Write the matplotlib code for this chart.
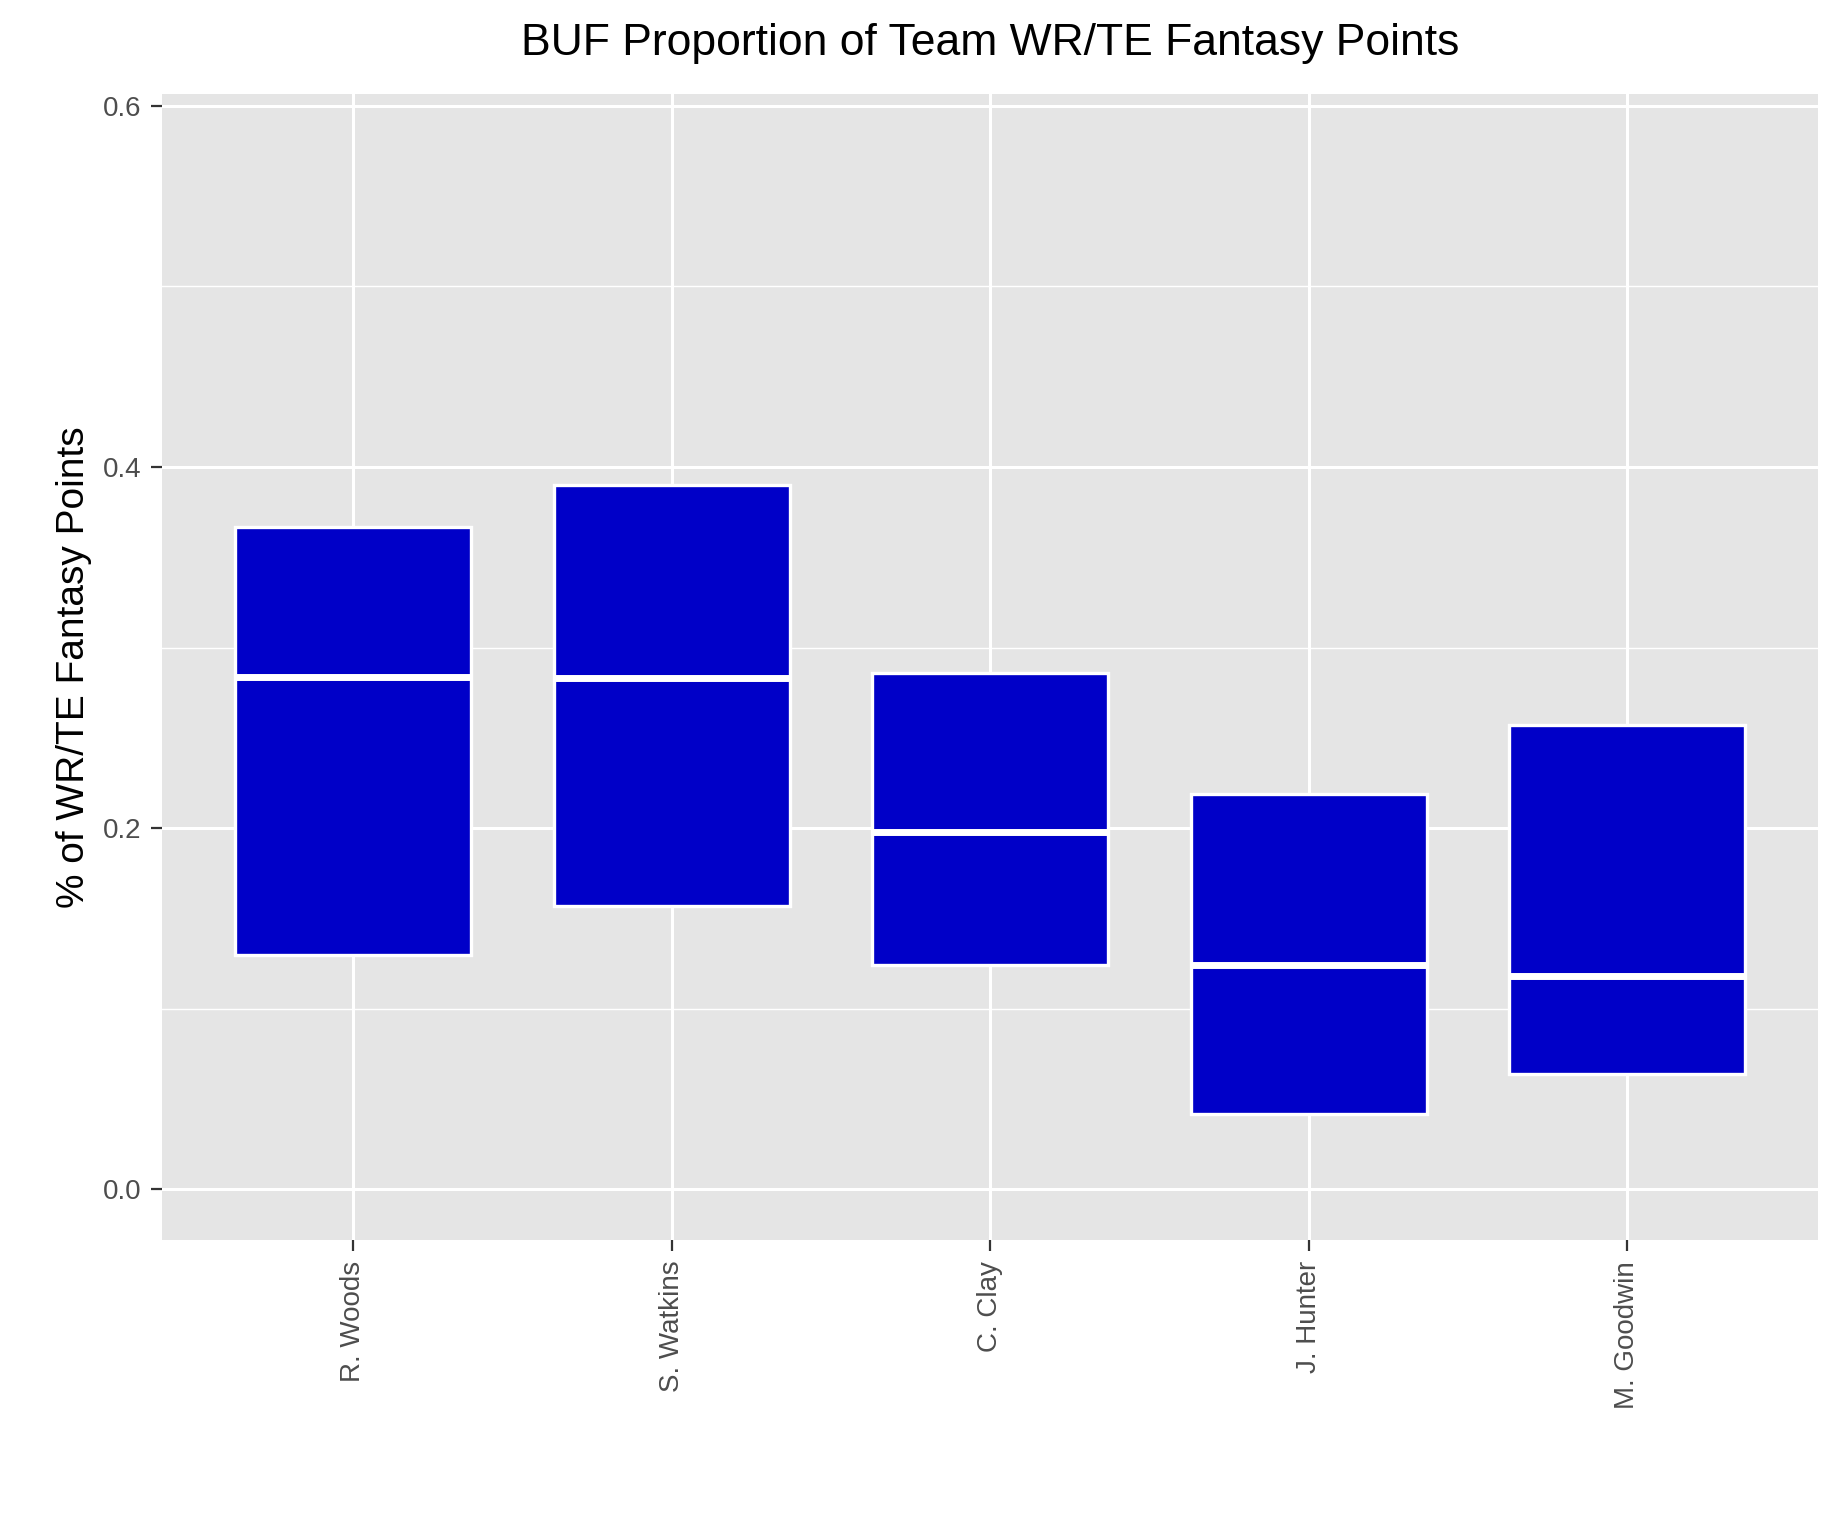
import matplotlib
matplotlib.use("Agg")
import matplotlib.pyplot as plt

players = ["R. Woods", "S. Watkins", "C. Clay", "J. Hunter", "M. Goodwin"]
lower = [0.130, 0.157, 0.124, 0.042, 0.064]
middle = [0.284, 0.283, 0.198, 0.124, 0.118]
upper = [0.367, 0.390, 0.286, 0.219, 0.257]

plt.rcParams['font.family'] = ['Liberation Sans', 'DejaVu Sans']
fig = plt.figure(figsize=(9.165, 7.645), dpi=200)
ax = fig.add_axes([0.0885, 0.189, 0.9035, 0.7495])
ax.set_facecolor('#e5e5e5')
for s in ax.spines.values():
    s.set_visible(False)

x = range(len(players))
width = 0.74
ax.bar(x, [u - l for u, l in zip(upper, lower)], bottom=lower, width=width,
       color='#0000c8', edgecolor='white', linewidth=1.2, zorder=3)
ax.hlines(middle, [i - width / 2 for i in x], [i + width / 2 for i in x],
          colors='white', linewidth=2.5, zorder=4)

ax.set_xlim(-0.6, 4.6)
ax.set_ylim(-0.028, 0.6065)
ax.set_yticks([0.0, 0.2, 0.4, 0.6])
ax.set_yticks([0.1, 0.3, 0.5], minor=True)
ax.set_xticks(list(x))
ax.set_xticklabels(players, rotation=90, fontsize=10, color='#4d4d4d')
ax.tick_params(axis='y', labelsize=10, labelcolor='#4d4d4d')
ax.tick_params(which='major', color='#333333', length=4)
ax.tick_params(which='minor', length=0)
ax.grid(True, which='major', color='white', linewidth=1.1, zorder=0)
ax.grid(True, which='minor', axis='y', color='white', linewidth=0.5, zorder=0)
ax.set_axisbelow(True)
ax.set_ylabel("% of WR/TE Fantasy Points", fontsize=14)
ax.set_title("BUF Proportion of Team WR/TE Fantasy Points", fontsize=16, pad=14)

fig.savefig("out.png", dpi=200)
